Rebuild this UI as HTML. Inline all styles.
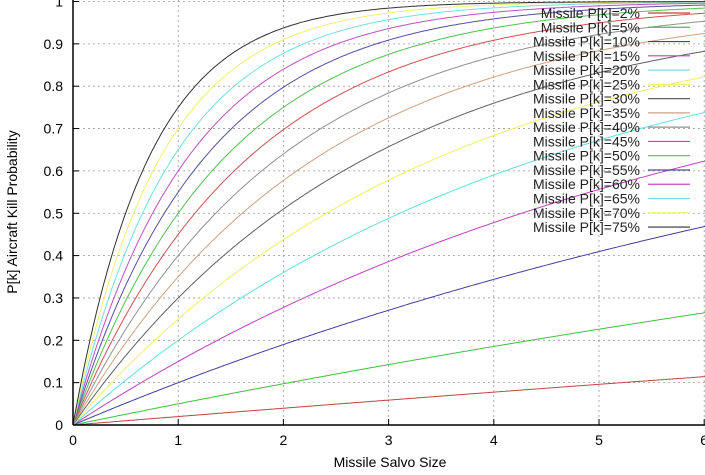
<!DOCTYPE html>
<html><head><meta charset="utf-8"><style>
html,body{margin:0;padding:0;background:#fff;width:705px;height:475px;overflow:hidden}
svg{display:block;font-family:"Liberation Sans",sans-serif}
</style></head><body>
<svg id="s" width="705" height="475" xmlns="http://www.w3.org/2000/svg"></svg>
<script>
const s=document.getElementById('s');
const X0=73,XS=105.2,Y0=425,YS=423.5;
let h='';
h+='<rect width="705" height="475" fill="#fff"/>';
for(let i=1;i<=6;i++){const x=X0+i*XS;h+=`<line x1="${x}" y1="0" x2="${x}" y2="${Y0}" stroke="#999" stroke-width="0.8" stroke-dasharray="2,3"/>`;}
for(let j=1;j<=10;j++){const y=Y0-j*YS/10;h+=`<line x1="${X0}" y1="${y}" x2="705" y2="${y}" stroke="#999" stroke-width="0.8" stroke-dasharray="2,3"/>`;}
const P=[2,5,10,15,20,25,30,35,40,45,50,55,60,65,70,75];
const C=['#c04040','#40c040','#4040a0','#c040c0','#60e0e0','#f0f060','#606060','#d0a080','#909090','#d05050','#50c050','#5050a0','#c050c0','#70e0e0','#f0f070','#303030'];
P.forEach((p,k)=>{let d='';for(let i=0;i<=300;i++){const x=i*6.1/300;const v=1-Math.pow(1-p/100,x);d+=(i?'L':'M')+(X0+x*XS).toFixed(1)+','+(Y0-v*YS).toFixed(1);}
h+=`<path d="${d}" fill="none" stroke="${C[k]}" stroke-width="1"/>`;});
h+=`<line x1="${X0}" y1="0" x2="${X0}" y2="${Y0}" stroke="#000" stroke-width="1.5"/>`;
h+=`<line x1="${X0}" y1="${Y0}" x2="705" y2="${Y0}" stroke="#000" stroke-width="1.5"/>`;
for(let i=0;i<=6;i++){const x=X0+i*XS;h+=`<line x1="${x}" y1="${Y0}" x2="${x}" y2="${Y0-6}" stroke="#000"/>`;h+=`<text x="${x}" y="445" font-size="14" text-anchor="middle">${i}</text>`;}
for(let j=0;j<=10;j++){const y=Y0-j*YS/10;h+=`<line x1="${X0}" y1="${y}" x2="${X0+6}" y2="${y}" stroke="#000"/>`;const t=j==10?'1':j==0?'0':'0.'+j;h+=`<text x="63" y="${y+5}" font-size="14" text-anchor="end">${t}</text>`;}
h+=`<text x="390" y="467" font-size="14" text-anchor="middle">Missile Salvo Size</text>`;
h+=`<text transform="translate(17,212) rotate(-90)" font-size="14" text-anchor="middle">P[k] Aircraft Kill Probability</text>`;
P.forEach((p,k)=>{const y=13+k*14.27;h+=`<text x="640" y="${y+5}" font-size="14" text-anchor="end" fill="#222">Missile P[k]=${p}%</text>`;h+=`<line x1="648" y1="${y}" x2="690" y2="${y}" stroke="${C[k]}" stroke-width="1.2"/>`;});
s.innerHTML=h;
</script>
</body></html>
